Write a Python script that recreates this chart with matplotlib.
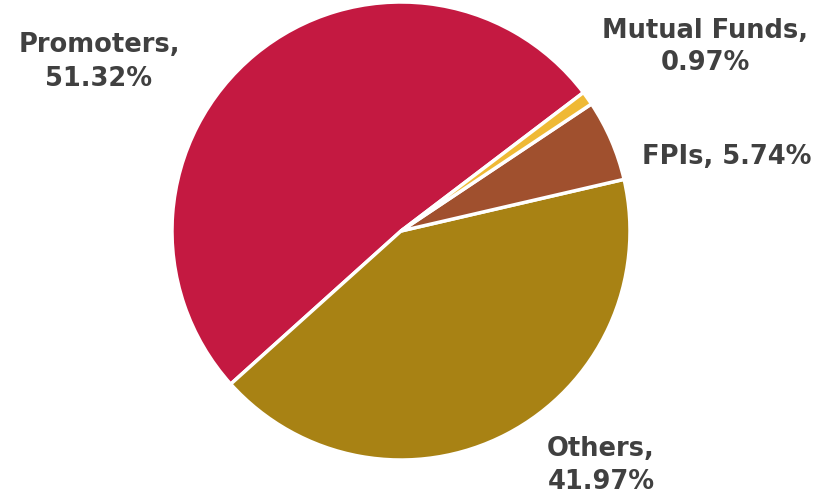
import matplotlib.pyplot as plt

labels = ['Promoters', 'Others', 'FPIs', 'Mutual Funds']
shares = [51.32, 41.97, 5.74, 0.97]
colors = ['#C41941', '#A88214', '#A0502E', '#EFB935']

fig = plt.figure(figsize=(8.21, 5.02), dpi=100)
ax = fig.add_axes([0, 0, 1, 1])

ax.pie(shares, colors=colors, startangle=37.2, center=(401, 270), radius=229,
       wedgeprops=dict(edgecolor='white', linewidth=2.5), frame=True)
ax.set_xlim(0, 821)
ax.set_ylim(0, 502)
ax.set_aspect('equal')
ax.axis('off')

# label positions in pixels (x, y from top)
label_pos = [(99, 62), (601, 466), (727, 157), (705, 47)]
for name, val, (x, y) in zip(labels, shares, label_pos):
    if name == 'FPIs':
        txt = f'{name}, {val:.2f}%'
    else:
        txt = f'{name},\n{val:.2f}%'
    ax.text(x, 502 - y, txt, ha='center', va='center', fontsize=18.5,
            fontweight='bold', color='#404040', family='DejaVu Sans',
            linespacing=1.35)

fig.savefig('out.png', dpi=100)
